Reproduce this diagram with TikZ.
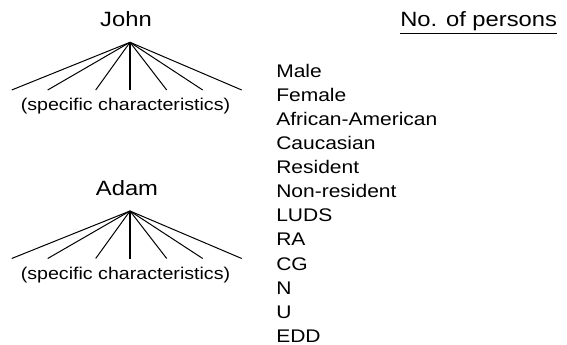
\documentclass[tikz,border=0pt]{standalone}
\usepackage{fontspec}
\setmainfont[FakeStretch=1.15]{Liberation Sans}
\usepackage{tikz}
\usetikzlibrary{calc}

\begin{document}
\begin{tikzpicture}[x=0.75pt,y=0.75pt,yscale=-1,xscale=1,
    branch/.style={line width=0.75},
    stem/.style={line width=1.6},
    persontitle/.style={font=\fontsize{15.5}{18}\selectfont, inner sep=0, anchor=base},
    charlabel/.style={font=\fontsize{12.8}{15}\selectfont, inner sep=0, anchor=base},
    listitem/.style={font=\fontsize{13.7}{16}\selectfont, inner sep=0, anchor=base west}]
\useasboundingbox (0,0) rectangle (567,345);
%Tree: John
\node [persontitle] (john) at (126,27) {John};
\coordinate (johnTop) at (130,42.3);
\foreach \lx [count=\i] in {11.7,47.7,95.7,166.7,202.7,241.7}
    \coordinate (johnLeaf\i) at (\lx,90);
\coordinate (johnMid) at (130,90);
\foreach \i in {1,...,6}
    \draw [branch] (johnTop) -- (johnLeaf\i);
\draw [stem] (johnTop) -- (johnMid);
\node [charlabel] (johnChar) at (125.5,110.5) {(specific characteristics)};
%Tree: Adam
\node [persontitle] (adam) at (127,196) {Adam};
\coordinate (adamTop) at (130,211);
\foreach \lx [count=\i] in {11.7,47.7,95.7,166.7,202.7,241.7}
    \coordinate (adamLeaf\i) at (\lx,258.5);
\coordinate (adamMid) at (130,258.5);
\foreach \i in {1,...,6}
    \draw [branch] (adamTop) -- (adamLeaf\i);
\draw [stem] (adamTop) -- (adamMid);
\node [charlabel] (adamChar) at (125.5,279.5) {(specific characteristics)};
%Column: No. of persons
\node [persontitle, anchor=base west] (persons) at (400,27) {\underline{No. of persons}};
\foreach \t [count=\i] in {Male,Female,African-American,Caucasian,Resident,Non-resident,LUDS,RA,CG,N,U,EDD}
    \node [listitem] (cat\i) at (276,{78+24*(\i-1)}) {\t};
\end{tikzpicture}
\end{document}
